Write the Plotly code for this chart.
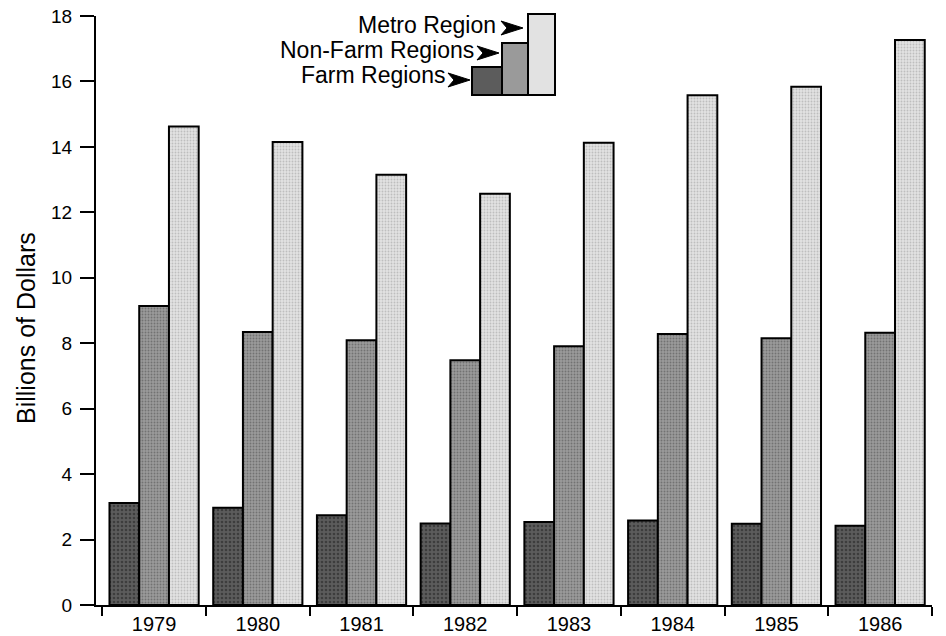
import plotly.graph_objects as go

years = ["1979", "1980", "1981", "1982", "1983", "1984", "1985", "1986"]
farm = [3.12, 2.97, 2.74, 2.49, 2.54, 2.58, 2.48, 2.42]
nonfarm = [9.14, 8.34, 8.09, 7.48, 7.91, 8.28, 8.15, 8.32]
metro = [14.62, 14.15, 13.15, 12.57, 14.13, 15.58, 15.84, 17.27]
series_names = ["Farm Regions", "Non-Farm Regions", "Metro Region"]
y_ticks = [0, 2, 4, 6, 8, 10, 12, 14, 16, 18]

# body margin is removed by a post script, so page pixels == figure pixels
OFF = 0
W, H = 946, 636
L, R, T, B = 96 - OFF, 932 - OFF, 16 - OFF, 605 - OFF

FONT = "Liberation Sans, Arial, Helvetica, sans-serif"

styles = [
    dict(bg="#5c5c5c", fg="#1e1e1e", shape=".", size=4, sol=0.35),
    dict(bg="#9a9a9a", fg="#4a4a4a", shape=".", size=3, sol=0.3),
    dict(bg="#e2e2e2", fg="#9a9a9a", shape=".", size=3, sol=0.3),
]

fig = go.Figure()
for name, vals, st in zip(series_names, [farm, nonfarm, metro], styles):
    fig.add_trace(go.Bar(
        x=years, y=vals, name=name,
        marker=dict(color=st["bg"],
                    line=dict(color="black", width=2),
                    pattern=dict(shape=st["shape"], fgcolor=st["fg"], bgcolor=st["bg"],
                                 size=st["size"], solidity=st["sol"], fillmode="overlay")),
    ))


def px(x):
    # page pixel -> paper
    return (x - OFF - L) / (R - L)


def py(y):
    return (B - (y - OFF)) / (B - T)


shapes = []
legend_boxes = [(472, 502, 67, 95), (502, 528, 43, 95), (528, 555, 14, 95)]
for (x0, x1, y0, y1), st in zip(legend_boxes, styles):
    shapes.append(dict(type="rect", xref="paper", yref="paper",
                       x0=px(x0), x1=px(x1), y0=py(y1), y1=py(y0),
                       fillcolor=st["bg"], line=dict(color="black", width=2)))

arrow_tips = [(470, 80), (499, 53), (523, 28)]
for tx, ty in arrow_tips:
    pts = [(tx, ty), (tx - 22, ty - 7), (tx - 16, ty), (tx - 22, ty + 7)]
    path = "M " + " L ".join(f"{px(a):.5f},{py(b):.5f}" for a, b in pts) + " Z"
    shapes.append(dict(type="path", xref="paper", yref="paper", path=path,
                       fillcolor="black", line=dict(color="black", width=1)))

annotations = []
label_pos = [(447, 75), (476, 50), (498, 25)]
for name, (x, y) in zip(series_names, label_pos):
    annotations.append(dict(text=name, xref="paper", yref="paper",
                            x=px(x), y=py(y), xanchor="right", yanchor="middle",
                            showarrow=False, font=dict(family=FONT, size=23, color="black")))

annotations.append(dict(text="Billions of Dollars", xref="paper", yref="paper",
                        x=px(26), y=py(328), xanchor="center", yanchor="middle",
                        textangle=-90, showarrow=False,
                        font=dict(family=FONT, size=25, color="black")))

fig.update_layout(
    width=W, height=H,
    margin=dict(l=L, r=W - R, t=T, b=H - B, pad=0, autoexpand=False),
    paper_bgcolor="white", plot_bgcolor="white",
    barmode="group", bargap=0.14, bargroupgap=0.0,
    showlegend=False,
    shapes=shapes, annotations=annotations,
    font=dict(family=FONT, color="black"),
)
fig.update_xaxes(
    type="category", range=[-0.56, 7.5], automargin=False,
    showline=True, linecolor="black", linewidth=2,
    ticks="outside", tickson="boundaries", ticklen=9, tickwidth=2, tickcolor="black",
    tickfont=dict(family=FONT, size=20, color="black"),
    showgrid=False, zeroline=False,
)
fig.update_yaxes(
    range=[0, 18], tickvals=y_ticks, ticktext=[str(v) for v in y_ticks],
    automargin=False,
    showline=True, linecolor="black", linewidth=2,
    ticks="outside", ticklen=14, tickwidth=2, tickcolor="black",
    ticklabelstandoff=4, ticklabeloverflow="allow",
    tickfont=dict(family=FONT, size=19, color="black"),
    showgrid=False, zeroline=False,
)

fig.write_html(
    "out.html",
    config={"displayModeBar": False},
    post_script="document.body.style.margin='0';document.body.style.overflow='hidden';",
)
